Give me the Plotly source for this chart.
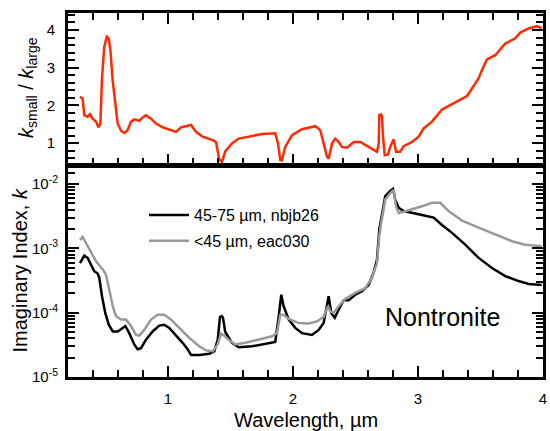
import plotly.graph_objects as go

ratio_x = [0.296, 0.317, 0.33, 0.357, 0.375, 0.397, 0.424, 0.443, 0.459, 0.472, 0.49, 0.51, 0.525, 0.539,
           0.557, 0.579, 0.597, 0.624, 0.651, 0.677, 0.704, 0.731, 0.77, 0.797, 0.824, 0.864, 0.904, 0.957,
           1.01, 1.064, 1.104, 1.184, 1.224, 1.277, 1.357, 1.384, 1.41, 1.432, 1.458, 1.512, 1.565, 1.645,
           1.752, 1.858, 1.88, 1.898, 1.91, 1.938, 1.992, 2.072, 2.152, 2.178, 2.218, 2.245, 2.272, 2.286,
           2.312, 2.338, 2.366, 2.392, 2.432, 2.486, 2.538, 2.605, 2.672, 2.686, 2.69, 2.705, 2.712, 2.72,
           2.734, 2.76, 2.778, 2.805, 2.824, 2.858, 2.885, 2.952, 3.005, 3.045, 3.112, 3.192, 3.272, 3.352,
           3.392, 3.432, 3.485, 3.512, 3.552, 3.618, 3.698, 3.778, 3.818, 3.885, 3.952, 3.99]
ratio_y = [2.23, 2.18, 1.74, 1.70, 1.77, 1.65, 1.57, 1.42, 1.52, 2.72, 3.55, 3.82, 3.78, 3.47,
           2.67, 2.05, 1.52, 1.33, 1.27, 1.34, 1.57, 1.63, 1.59, 1.68, 1.74, 1.65, 1.52, 1.42,
           1.36, 1.30, 1.42, 1.48, 1.30, 1.17, 1.08, 1.03, 0.57, 0.50, 0.78, 0.99, 1.12, 1.17,
           1.24, 1.26, 0.99, 0.55, 0.54, 0.90, 1.21, 1.37, 1.42, 1.45, 1.34, 0.99, 0.64, 0.59,
           0.99, 1.12, 1.03, 0.90, 0.88, 1.03, 1.03, 0.90, 0.77, 0.99, 1.74, 1.76, 1.70, 1.17,
           0.68, 0.70, 0.90, 1.10, 0.77, 0.77, 0.92, 1.03, 1.17, 1.39, 1.57, 1.89, 2.03, 2.18,
           2.25, 2.45, 2.72, 2.94, 3.22, 3.33, 3.64, 3.78, 3.93, 4.04, 4.10, 4.04]

coarse_x = [0.296, 0.33, 0.357, 0.384, 0.41, 0.437, 0.45, 0.472, 0.498, 0.526, 0.558, 0.598, 0.624, 0.659,
            0.69, 0.73, 0.757, 0.784, 0.824, 0.877, 0.93, 0.97, 1.01, 1.064, 1.117, 1.157, 1.184, 1.25,
            1.33, 1.37, 1.398, 1.416, 1.432, 1.44, 1.458, 1.512, 1.565, 1.672, 1.778, 1.858, 1.886, 1.906,
            1.925, 1.966, 2.018, 2.072, 2.152, 2.205, 2.245, 2.272, 2.285, 2.306, 2.334, 2.365, 2.406, 2.446,
            2.498, 2.552, 2.605, 2.645, 2.672, 2.69, 2.706, 2.712, 2.738, 2.778, 2.80, 2.818, 2.846, 2.885,
            2.952, 3.032, 3.125, 3.192, 3.272, 3.378, 3.485, 3.592, 3.698, 3.805, 3.885, 3.99]
coarse_k = [5.9e-4, 7.7e-4, 7.1e-4, 5.6e-4, 4.4e-4, 4.05e-4, 3.5e-4, 1.8e-4, 9.9e-5, 6.5e-5, 5.1e-5, 5.1e-5, 5.5e-5, 6.2e-5,
            4.8e-5, 3.2e-5, 2.7e-5, 2.8e-5, 3.8e-5, 5.1e-5, 6.3e-5, 6.5e-5, 5.8e-5, 4.5e-5, 3.4e-5, 2.7e-5, 2.2e-5, 2.2e-5,
            2.3e-5, 2.5e-5, 3.8e-5, 8.6e-5, 8.8e-5, 8.3e-5, 5.0e-5, 3.4e-5, 2.9e-5, 3.0e-5, 3.3e-5, 3.5e-5, 8.8e-5, 1.9e-4,
            1.26e-4, 7.8e-5, 5.8e-5, 4.8e-5, 4.5e-5, 5.4e-5, 6.9e-5, 1.42e-4, 1.8e-4, 9.9e-5, 8.3e-5, 1.11e-4, 1.56e-4, 1.56e-4,
            1.9e-4, 2.15e-4, 2.7e-4, 4.2e-4, 6.7e-4, 1.95e-3, 2.8e-3, 3.2e-3, 6.5e-3, 7.8e-3, 8.4e-3, 5.7e-3, 4.25e-3, 3.8e-3,
            3.6e-3, 3.3e-3, 3.0e-3, 2.3e-3, 1.74e-3, 1.14e-3, 7.1e-4, 4.95e-4, 3.7e-4, 3.1e-4, 2.8e-4, 2.7e-4]

fine_x = [0.296, 0.317, 0.344, 0.384, 0.424, 0.478, 0.504, 0.53, 0.558, 0.584, 0.624, 0.664, 0.704, 0.744,
          0.77, 0.81, 0.864, 0.918, 0.97, 1.024, 1.09, 1.17, 1.25, 1.304, 1.357, 1.397, 1.424, 1.445,
          1.485, 1.538, 1.618, 1.725, 1.832, 1.872, 1.898, 1.925, 1.966, 2.045, 2.125, 2.192, 2.245, 2.28,
          2.298, 2.325, 2.365, 2.418, 2.498, 2.578, 2.632, 2.672, 2.69, 2.706, 2.738, 2.778, 2.805, 2.824,
          2.846, 2.885, 2.952, 3.032, 3.112, 3.178, 3.245, 3.352, 3.485, 3.618, 3.752, 3.858, 3.99]
fine_k = [1.34e-3, 1.5e-3, 1.21e-3, 8.5e-4, 6.3e-4, 4.7e-4, 3.9e-4, 2.3e-4, 1.26e-4, 8.8e-5, 7.8e-5, 7.8e-5, 6.2e-5, 4.5e-5,
          4.4e-5, 5.4e-5, 7.8e-5, 9.3e-5, 9.3e-5, 7.8e-5, 5.8e-5, 4.05e-5, 3.0e-5, 2.6e-5, 2.5e-5, 3.2e-5, 4.7e-5, 4.5e-5,
          3.8e-5, 3.2e-5, 3.4e-5, 3.8e-5, 4.3e-5, 4.8e-5, 9.3e-5, 9.3e-5, 8.0e-5, 6.9e-5, 6.8e-5, 7.3e-5, 8.6e-5, 1.26e-4,
          1.05e-4, 9.9e-5, 1.26e-4, 1.63e-4, 2.03e-4, 2.4e-4, 3.5e-4, 5.9e-4, 1.55e-3, 2.5e-3, 5.75e-3, 7.2e-3, 8.1e-3, 4.5e-3,
          3.55e-3, 3.7e-3, 4.0e-3, 4.5e-3, 5.1e-3, 5.1e-3, 3.8e-3, 2.7e-3, 2.1e-3, 1.63e-3, 1.29e-3, 1.14e-3, 1.08e-3]

series_names = ["45-75 \u00b5m, nbjb26", "<45 \u00b5m, eac030"]
x_ticks = [1, 2, 3, 4]
x_minor = [0.4, 0.6, 0.8, 1.2, 1.4, 1.6, 1.8, 2.2, 2.4, 2.6, 2.8, 3.2, 3.4, 3.6, 3.8]
ratio_ticks = [1, 2, 3, 4]
ratio_minor = [0.6, 0.8, 1.2, 1.4, 1.6, 1.8, 2.2, 2.4, 2.6, 2.8, 3.2, 3.4, 3.6, 3.8, 4.2, 4.4]
k_ticks = [1e-5, 1e-4, 1e-3, 1e-2]
k_tick_text = ["10<sup>-5</sup>", "10<sup>-4</sup>", "10<sup>-3</sup>", "10<sup>-2</sup>"]
k_minor = [m * d for d in (1e-5, 1e-4, 1e-3) for m in range(2, 10)] + [1.5e-2]

FONT = "Liberation Sans, Arial, sans-serif"

fig = go.Figure()
fig.add_trace(go.Scatter(x=ratio_x, y=ratio_y, mode="lines", line=dict(color="#ff2a00", width=2.5),
                         xaxis="x", yaxis="y", showlegend=False))
fig.add_trace(go.Scatter(x=coarse_x, y=coarse_k, mode="lines", line=dict(color="black", width=2.5),
                         xaxis="x2", yaxis="y2", name=series_names[0], legendgroup="a"))
fig.add_trace(go.Scatter(x=fine_x, y=fine_k, mode="lines", line=dict(color="#999999", width=2.5),
                         xaxis="x2", yaxis="y2", name=series_names[1], legendgroup="b"))


def axis(**kw):
    d = dict(showline=True, linecolor="black", linewidth=3, ticks="inside", tickcolor="black",
             tickwidth=2, ticklen=11, showgrid=False, zeroline=False, tickmode="array",
             tickfont=dict(family=FONT, size=15, color="black"))
    d.update(kw)
    return d


def minor(vals):
    return dict(ticks="inside", tickmode="array", tickvals=vals, ticklen=7, tickwidth=2,
                tickcolor="black", showgrid=False)


fig.update_layout(
    template="none",
    width=550, height=431,
    margin=dict(l=68, r=7, t=13, b=54),
    paper_bgcolor="white", plot_bgcolor="white",
    font=dict(family=FONT, color="black"),
    xaxis=axis(domain=[0, 1], anchor="y", range=[0.2, 4.0], tickvals=x_ticks,
               showticklabels=False, mirror="ticks", minor=minor(x_minor)),
    yaxis=axis(domain=[0.5824, 1], anchor="x", range=[0.42, 4.45], tickvals=ratio_ticks,
               mirror="ticks", ticklabelstandoff=7, minor=minor(ratio_minor)),
    xaxis2=axis(domain=[0, 1], anchor="y2", range=[0.2, 4.0], tickvals=x_ticks,
                mirror=True, ticklabelstandoff=6, minor=minor(x_minor)),
    yaxis2=axis(domain=[0, 0.5797], anchor="x2", type="log", range=[-5, -1.72],
                tickvals=k_ticks, ticktext=k_tick_text, mirror="ticks", ticklabelstandoff=4,
                minor=minor(k_minor)),
    legend=dict(x=(144 - 68) / 475, y=(377 - 198) / 364, xanchor="left", yanchor="top",
                bgcolor="rgba(0,0,0,0)", font=dict(family=FONT, size=16, color="black"),
                tracegroupgap=2, traceorder="grouped", itemwidth=40),
    annotations=[
        dict(text="Nontronite", x=(442 - 68) / 475, y=(377 - 317) / 364, xref="paper", yref="paper",
             xanchor="center", yanchor="middle",
             showarrow=False, font=dict(family=FONT, size=25, color="black")),
        dict(text="<i>k</i><sub>small</sub> / <i>k</i><sub>large</sub>", x=(27 - 68) / 475,
             y=(377 - 88) / 364, xref="paper", yref="paper", textangle=-90, showarrow=False,
             xanchor="center", yanchor="middle",
             font=dict(family=FONT, size=20, color="black")),
        dict(text="Imaginary Index, <i>k</i>", x=(19.5 - 68) / 475, y=(377 - 271) / 364,
             xref="paper", yref="paper", textangle=-90, showarrow=False,
             xanchor="center", yanchor="middle",
             font=dict(family=FONT, size=20, color="black")),
        dict(text="Wavelength, \u00b5m", x=0.5, y=(377 - 420) / 364, xref="paper", yref="paper",
             xanchor="center", yanchor="middle",
             showarrow=False, font=dict(family=FONT, size=20, color="black")),
    ],
)

fig.write_html("out.html", config={"displayModeBar": False},
               post_script="document.body.style.margin='0';")
